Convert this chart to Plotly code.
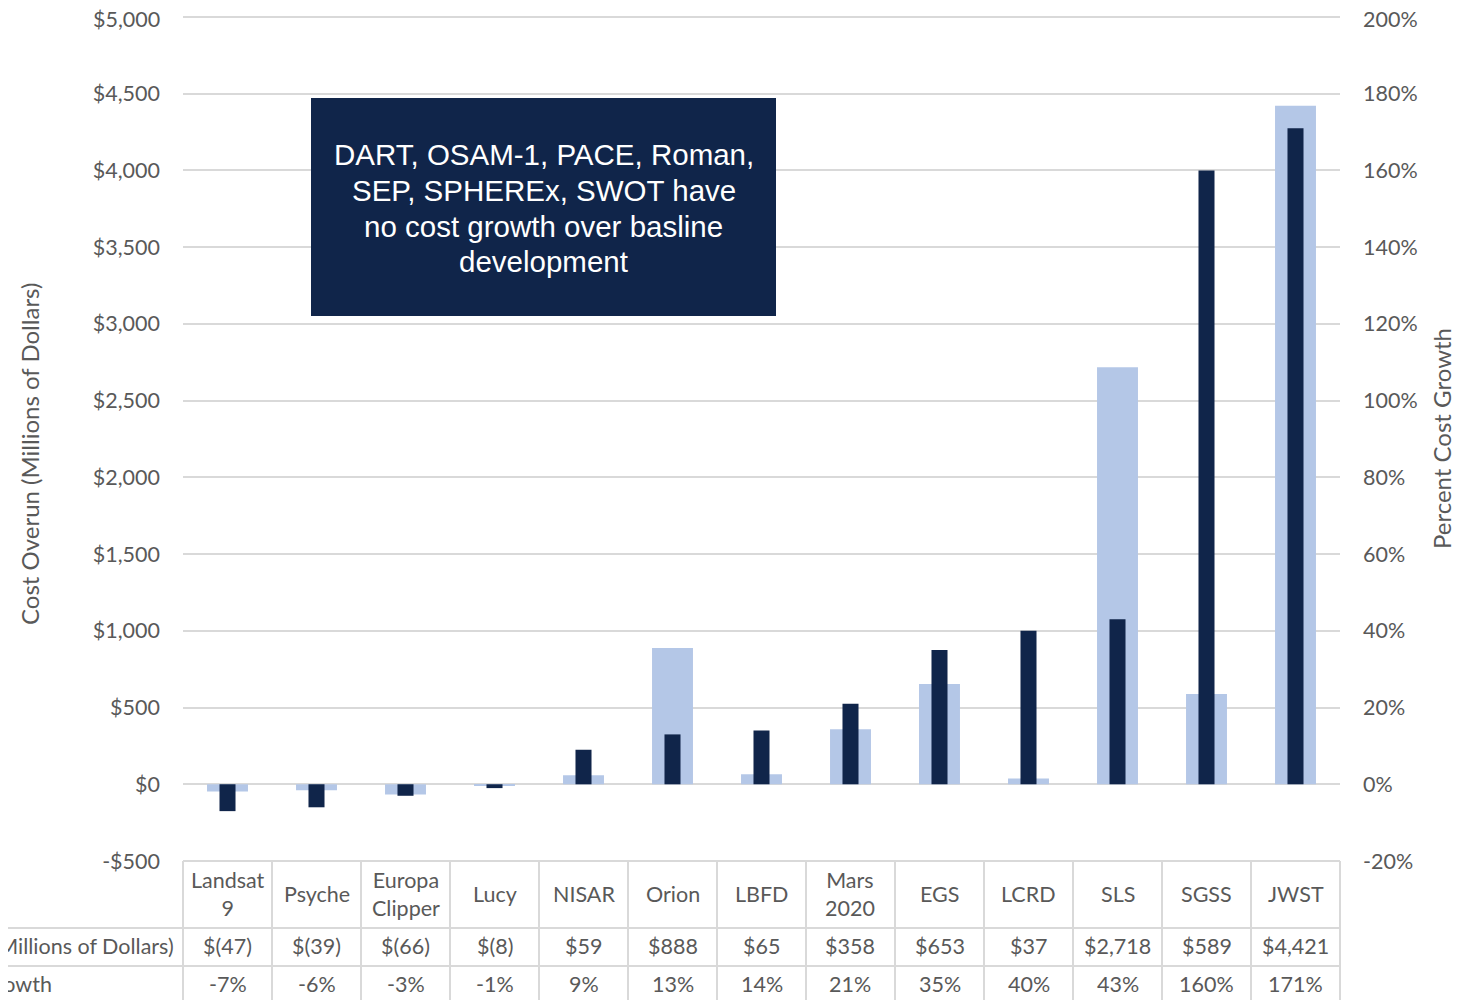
import plotly.graph_objects as go

# ---- data ----
categories = ["Landsat<br>9", "Psyche", "Europa<br>Clipper", "Lucy", "NISAR", "Orion", "LBFD",
              "Mars<br>2020", "EGS", "LCRD", "SLS", "SGSS", "JWST"]
cost_overrun = [-47, -39, -66, -8, 59, 888, 65, 358, 653, 37, 2718, 589, 4421]
pct_growth = [-7, -6, -3, -1, 9, 13, 14, 21, 35, 40, 43, 160, 171]
left_ticks = [-500, 0, 500, 1000, 1500, 2000, 2500, 3000, 3500, 4000, 4500, 5000]
right_ticks = [-20, 0, 20, 40, 60, 80, 100, 120, 140, 160, 180, 200]
series_names = ["Cost Overun (Millions of Dollars)", "Percent Cost Growth"]
note_lines = ["DART, OSAM-1, PACE, Roman,", "SEP, SPHEREx, SWOT have",
              "no cost growth over basline", "development"]

LIGHT = "#b4c7e7"
NAVY = "#10254a"
GRID = "#d9d9d9"
TXT = "#595959"
FONT = "Lato"

OFF = 8  # page body offset
W, H = 1465 - OFF, 1000 - OFF
PL, PR, PT, PB = 183, 1340, 17, 861  # plot area in page pixels
L, R, T, B = PL - OFF, 1465 - PR, PT - OFF, 1000 - PB
PW = PR - PL
PH = PB - PT


def px_x(px):
    return (px - PL) / PW


def px_y(py):
    return (PB - py) / PH


def fmt_money(v):
    if v < 0:
        return "$(" + f"{-v:,}" + ")"
    return "$" + f"{v:,}"


def fmt_money_tick(v):
    return ("-$" if v < 0 else "$") + f"{abs(v):,}"


xs = list(range(len(categories)))

fig = go.Figure()
fig.add_trace(go.Bar(x=xs, y=cost_overrun, name=series_names[0], marker_color=LIGHT,
                     width=0.46, offset=-0.23, yaxis="y", marker_line_width=0))
fig.add_trace(go.Bar(x=xs, y=pct_growth, name=series_names[1], marker_color=NAVY,
                     width=0.18, offset=-0.09, yaxis="y2", marker_line_width=0))

shapes = []
annotations = []

# note box
shapes.append(dict(type="rect", xref="paper", yref="paper",
                   x0=px_x(311), x1=px_x(776), y0=px_y(316), y1=px_y(98),
                   fillcolor=NAVY, line_width=0, layer="above"))
for line, yy in zip(note_lines, [155, 190, 226, 261]):
    annotations.append(dict(xref="paper", yref="paper", x=px_x(543.5), y=px_y(yy),
                            text=line, showarrow=False, align="center",
                            font=dict(family="Liberation Sans, Arial", size=29.5, color="white"),
                            xanchor="center", yanchor="middle"))

tick_font = dict(family=FONT, size=21.5, color=TXT)

# top gridline and top tick labels (at the range edge)
shapes.append(dict(type="line", xref="paper", yref="paper", x0=0, x1=1,
                   y0=1, y1=1, line=dict(color=GRID, width=2), layer="below"))
annotations.append(dict(xref="paper", yref="paper", x=px_x(161), y=1, yshift=-2,
                        text=fmt_money_tick(left_ticks[-1]), showarrow=False, font=tick_font,
                        xanchor="right", yanchor="middle", borderpad=0))
annotations.append(dict(xref="paper", yref="paper", x=px_x(1362), y=1, yshift=-2,
                        text=f"{right_ticks[-1]}%", showarrow=False, font=tick_font,
                        xanchor="left", yanchor="middle", borderpad=0))

# data table
n = len(categories)
for k in range(n + 1):
    xp = px_x(PL + k * PW / n)
    shapes.append(dict(type="line", xref="paper", yref="paper", x0=xp, x1=xp,
                       y0=px_y(861), y1=px_y(1010), line=dict(color=GRID, width=2)))
shapes.append(dict(type="line", xref="paper", yref="paper", x0=px_x(PL), x1=px_x(PR),
                   y0=px_y(861), y1=px_y(861), line=dict(color=GRID, width=2)))
for yy in [928, 966]:
    shapes.append(dict(type="line", xref="paper", yref="paper", x0=px_x(-20), x1=px_x(PR),
                       y0=px_y(yy), y1=px_y(yy), line=dict(color=GRID, width=2)))

cell_font = dict(family=FONT, size=21.5, color=TXT)
for i, c in enumerate(categories):
    xc = px_x(PL + (i + 0.5) * PW / n)
    annotations.append(dict(xref="paper", yref="paper", x=xc, y=px_y(894), text=c,
                            showarrow=False, font=cell_font, xanchor="center", yanchor="middle"))
    annotations.append(dict(xref="paper", yref="paper", x=xc, y=px_y(946),
                            text=fmt_money(cost_overrun[i]), showarrow=False, font=cell_font,
                            xanchor="center", yanchor="middle"))
    annotations.append(dict(xref="paper", yref="paper", x=xc, y=px_y(984),
                            text=f"{pct_growth[i]}%", showarrow=False, font=cell_font,
                            xanchor="center", yanchor="middle"))

annotations.append(dict(xref="paper", yref="paper", x=px_x(176), y=px_y(946),
                        text=series_names[0], showarrow=False, font=cell_font,
                        xanchor="right", yanchor="middle"))
annotations.append(dict(xref="paper", yref="paper", x=px_x(54), y=px_y(984),
                        text=series_names[1], showarrow=False, font=cell_font,
                        xanchor="right", yanchor="middle"))

# axis titles
annotations.append(dict(xref="paper", yref="paper", x=px_x(30), y=px_y(454),
                        text=series_names[0], showarrow=False, textangle=-90,
                        font=dict(family=FONT, size=24, color=TXT),
                        xanchor="center", yanchor="middle"))
annotations.append(dict(xref="paper", yref="paper", x=px_x(1441), y=px_y(439),
                        text=series_names[1], showarrow=False, textangle=-90,
                        font=dict(family=FONT, size=24, color=TXT),
                        xanchor="center", yanchor="middle"))

fig.update_layout(
    width=W, height=H,
    margin=dict(l=L, r=R, t=T, b=B, autoexpand=False),
    paper_bgcolor="white", plot_bgcolor="white",
    showlegend=False,
    barmode="overlay",
    font=dict(family=FONT, color=TXT),
    xaxis=dict(range=[-0.5, n - 0.5], showticklabels=False, showgrid=False,
               zeroline=False, showline=False, ticks=""),
    yaxis=dict(range=[-500, 5000], tickvals=left_ticks[:-1],
               ticktext=[fmt_money_tick(v) for v in left_ticks[:-1]],
               showgrid=True, gridcolor=GRID, gridwidth=2,
               zeroline=True, zerolinecolor=GRID, zerolinewidth=2,
               showline=False, ticks="", ticklabelstandoff=22,
               tickfont=tick_font),
    yaxis2=dict(range=[-20, 200], tickvals=right_ticks[:-1],
                ticktext=[f"{v}%" for v in right_ticks[:-1]],
                overlaying="y", side="right", showgrid=False, zeroline=False,
                showline=False, ticks="", ticklabelstandoff=22,
                tickfont=tick_font),
    shapes=shapes,
    annotations=annotations,
)

fig.write_html("out.html")
